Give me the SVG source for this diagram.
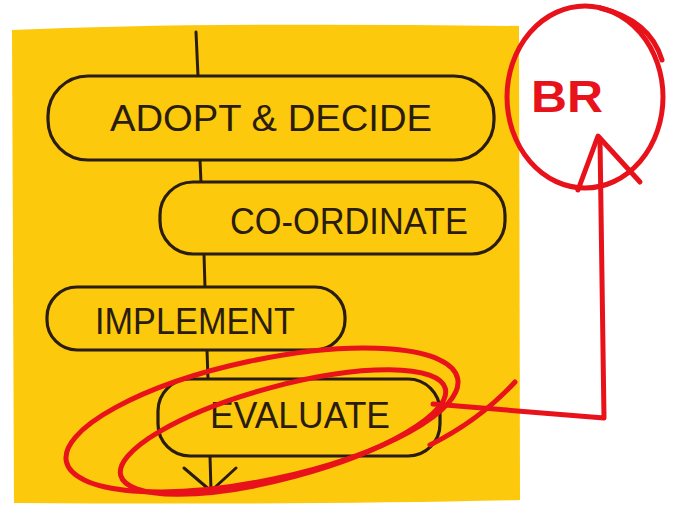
<svg xmlns="http://www.w3.org/2000/svg" width="673" height="511" viewBox="0 0 673 511">
<style>
.box{fill:#fdc90c;stroke:#2b1d0e;stroke-width:3.2;stroke-linejoin:round}
.lbl{font-family:"Liberation Sans",Arial,sans-serif;font-size:36px;fill:#2b1d0e;text-anchor:middle}
.conn{fill:none;stroke:#2b1d0e;stroke-width:3;stroke-linecap:round;stroke-linejoin:round}
.red{fill:none;stroke:#e8121b;stroke-width:5;stroke-linecap:round;stroke-linejoin:round}
</style>
<rect width="673" height="511" fill="#ffffff"/>
<path d="M12 30 Q200 22 519 26 L520 500 Q300 505 14 503 Z" fill="#fdc90c"/>
<g id="connectors">
<path class="conn" d="M196 32 L198 76"/>
<path class="conn" d="M200 160 L201 183"/>
<path class="conn" d="M204 254 L205 288"/>
<path class="conn" d="M207 350 L208 379"/>
<path class="conn" d="M210 456 L211 491 M184 468 L211 491 L236 468"/>
</g>
<g id="adopt">
<rect class="box" x="48" y="76" width="446" height="84" rx="40"/>
<text class="lbl" x="271" y="131" textLength="322" lengthAdjust="spacingAndGlyphs">ADOPT &amp; DECIDE</text>
</g>
<g id="coordinate">
<rect class="box" x="160" y="182" width="345" height="72" rx="33"/>
<text class="lbl" x="349" y="234" textLength="238" lengthAdjust="spacingAndGlyphs">CO-ORDINATE</text>
</g>
<g id="implement">
<rect class="box" x="47" y="287" width="298" height="63" rx="30"/>
<text class="lbl" x="195" y="334" textLength="200" lengthAdjust="spacingAndGlyphs">IMPLEMENT</text>
</g>
<g id="evaluate">
<rect class="box" x="158" y="379" width="282" height="77" rx="32"/>
<text class="lbl" x="300" y="428" textLength="180" lengthAdjust="spacingAndGlyphs">EVALUATE</text>
</g>
<g id="highlight">
<ellipse class="red" cx="262" cy="420" rx="200" ry="60" transform="rotate(-12 262 420)"/>
<ellipse class="red" cx="283" cy="432" rx="168" ry="46" transform="rotate(-15 283 432)"/>
<path class="red" d="M515 382 Q480 420 430 445"/>
<path class="red" d="M433 404 L604 418 L600 140"/>
<path class="red" d="M578 190 L598 136 L640 182"/>
</g>
<g id="br">
<ellipse class="red" cx="585" cy="97" rx="78" ry="91"/>
<path class="red" d="M600 8 Q650 20 662 60"/>
<text x="567" y="112" font-family="Liberation Sans,Arial,sans-serif" font-size="44" font-weight="bold" fill="#e8121b" text-anchor="middle" textLength="72" lengthAdjust="spacingAndGlyphs">BR</text>
</g>
</svg>
